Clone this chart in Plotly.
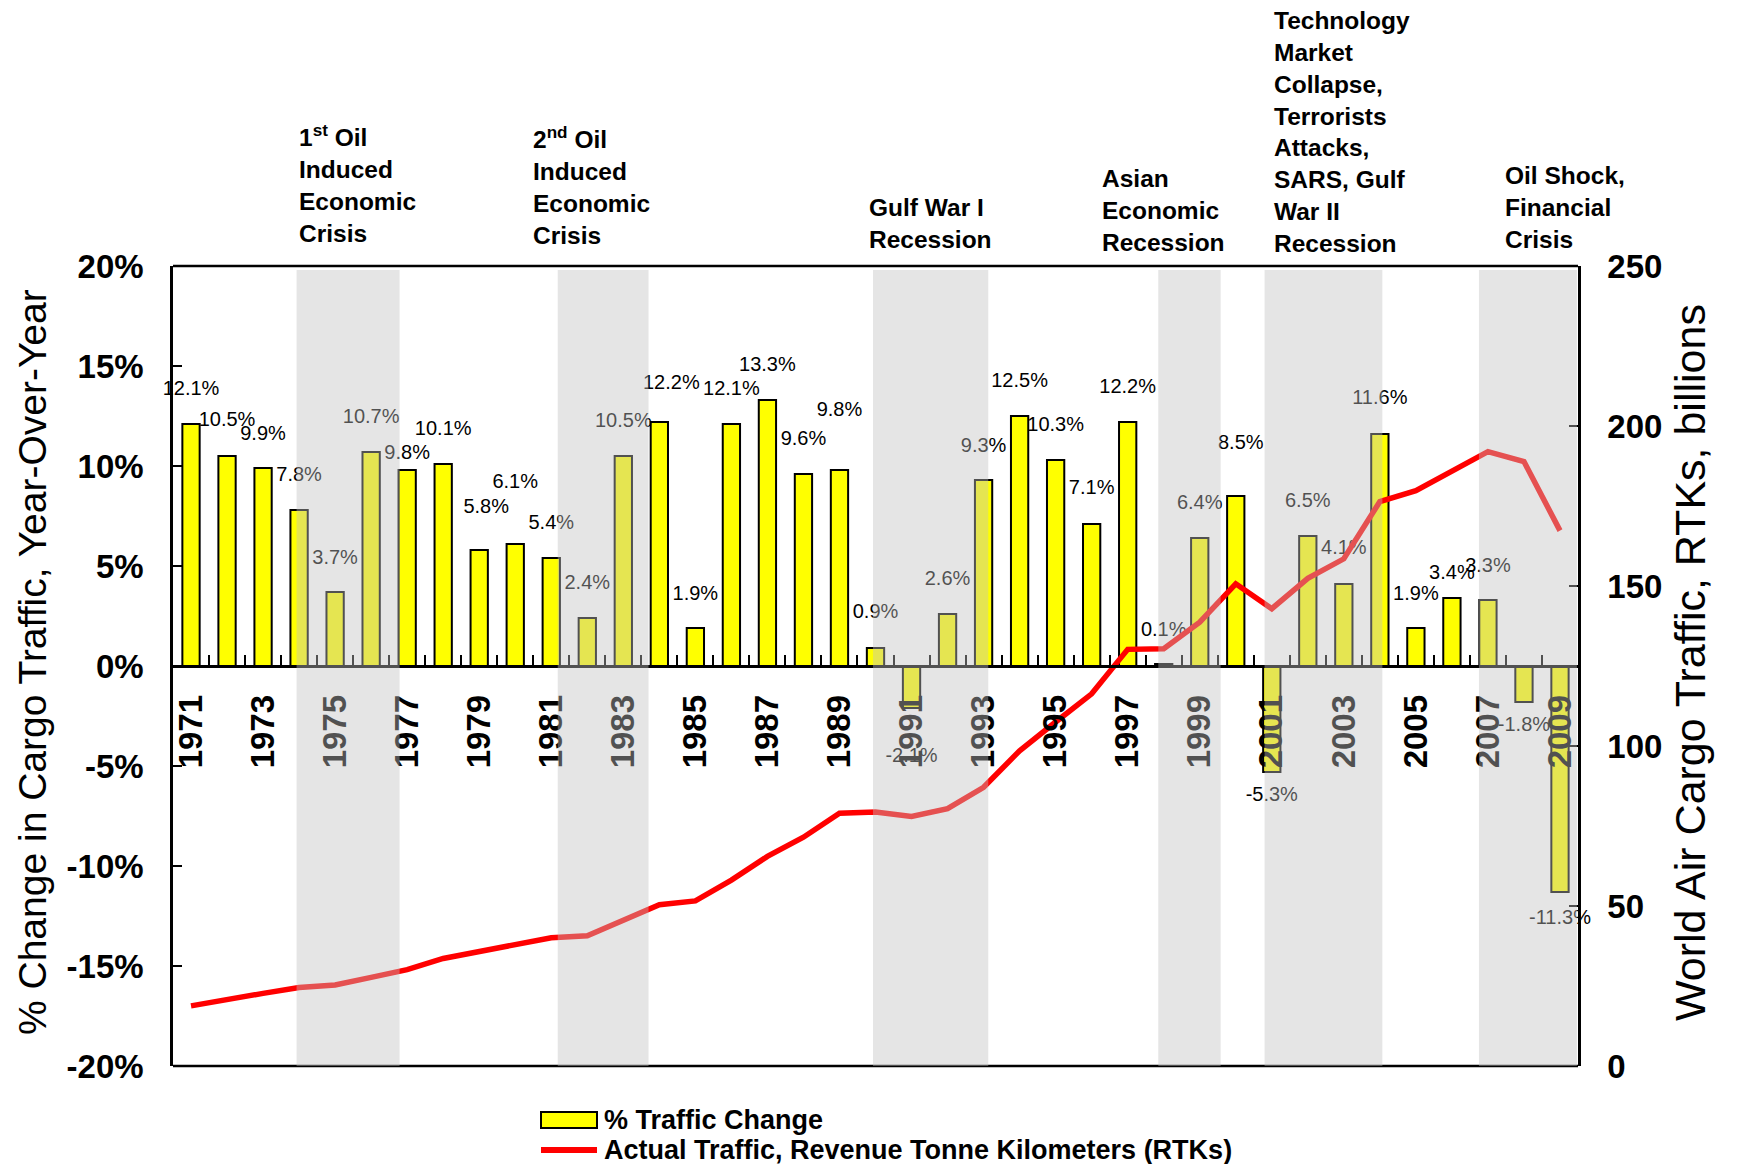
import plotly.graph_objects as go

# ---------------- data ----------------
years = list(range(1971, 2010))
pct_change = [12.1, 10.5, 9.9, 7.8, 3.7, 10.7, 9.8, 10.1, 5.8, 6.1,
              5.4, 2.4, 10.5, 12.2, 1.9, 12.1, 13.3, 9.6, 9.8, 0.9,
              -2.1, 2.6, 9.3, 12.5, 10.3, 7.1, 12.2, 0.1, 6.4, 8.5,
              -5.3, 6.5, 4.1, 11.6, 1.9, 3.4, 3.3, -1.8, -11.3]
rtk_billions = [18.8, 20.9, 22.7, 24.5, 25.3, 27.7, 30.1, 33.6, 35.7, 38.1,
                40.1, 40.7, 45.4, 50.4, 51.6, 58.1, 65.5, 71.5, 79.0, 79.4,
                78.0, 80.4, 87.1, 98.5, 107.5, 116.3, 130.2, 130.4, 138.7, 150.7,
                142.9, 152.4, 158.5, 176.4, 179.8, 186.1, 192.0, 188.9, 167.3]
year_tick_labels = [str(y) for y in range(1971, 2010, 2)]
pct_tick_values = [-20, -15, -10, -5, 0, 5, 10, 15, 20]
pct_tick_labels = ["-20%", "-15%", "-10%", "-5%", "0%", "5%", "10%", "15%", "20%"]
crisis_periods = [(1973.93, 1976.79), (1981.18, 1983.70), (1989.93, 1993.13),
                  (1997.85, 1999.58), (2000.80, 2004.07), (2006.75, 2009.47)]
crisis_labels = ["1<sup>st</sup> Oil<br>Induced<br>Economic<br>Crisis",
                 "2<sup>nd</sup> Oil<br>Induced<br>Economic<br>Crisis",
                 "Gulf War I<br>Recession",
                 "Asian<br>Economic<br>Recession",
                 "Technology<br>Market<br>Collapse,<br>Terrorists<br>Attacks,<br>SARS, Gulf<br>War II<br>Recession",
                 "Oil Shock,<br>Financial<br>Crisis"]
series_names = ["% Traffic Change", "Actual Traffic, Revenue Tonne Kilometers (RTKs)"]

# label nudges (pixels): vertical lift from bar end, horizontal shift
label_lift = [34, 35, 33, 34, 33, 34, 16, 34, 42, 61,
              34, 34, 34, 38, 33, 34, 34, 34, 59, 35,
              -49, 34, 33, 34, 34, 35, 34, 33, 34, 52,
              -24, 34, 35, 35, 33, 24, 33, -24, -27]
label_dx = [0] * 39
label_dx[8] = 7
label_dx[13] = 12
label_dx[29] = 5

# ---------------- layout geometry ----------------
W, H = 1739, 1164
ML, MR, MT, MB = 173, 161, 266, 98
PW = W - ML - MR
PH = H - MT - MB
X0, X1 = 1970.5, 2009.5
px_per_year = PW / (X1 - X0)
px_per_pct = PH / 40.0


def px_x(px):
    return (px - ML) / PW


def px_y(py):
    return (H - MB - py) / PH


BASE = "Liberation Sans, Arial, sans-serif"
YELLOW = "#FFFF00"
RED = "#FF0000"

fig = go.Figure()

fig.add_trace(go.Bar(
    x=years, y=pct_change, width=0.48,
    marker=dict(color=YELLOW, line=dict(color="black", width=2)),
    name=series_names[0], yaxis="y", showlegend=False,
))

label_text = [f"{v:.1f}%" for v in pct_change]
label_x = [y + dx / px_per_year for y, dx in zip(years, label_dx)]
label_y = [v + lf / px_per_pct for v, lf in zip(pct_change, label_lift)]
fig.add_trace(go.Scatter(
    x=label_x, y=label_y, text=label_text, mode="text",
    textposition="middle center", cliponaxis=False,
    textfont=dict(family=BASE, size=20, color="black"),
    showlegend=False, hoverinfo="skip", yaxis="y",
))

fig.add_trace(go.Scatter(
    x=years, y=rtk_billions, mode="lines",
    line=dict(color=RED, width=5.5),
    name=series_names[1], yaxis="y2", showlegend=False,
))

shapes = []
# bottom frame line (drawn before bands so bands tint it)
shapes.append(dict(type="line", xref="paper", yref="paper", x0=0, x1=1, y0=0, y1=0,
                   line=dict(color="black", width=2.5), layer="above"))
shapes.append(dict(type="line", xref="paper", yref="paper", x0=0, x1=1, y0=1, y1=1,
                   line=dict(color="black", width=2.5), layer="above"))
for a, b in crisis_periods:
    shapes.append(dict(type="rect", xref="x", yref="y", x0=a, x1=b, y0=-20.2, y1=19.8,
                       fillcolor="rgba(192,192,192,0.42)", line=dict(width=0),
                       layer="above"))

# manual legend (wide swatch like the original)
shapes.append(dict(type="rect", xref="paper", yref="paper",
                   x0=px_x(541), x1=px_x(597), y0=px_y(1128), y1=px_y(1112),
                   fillcolor=YELLOW, line=dict(color="black", width=2), layer="above"))
shapes.append(dict(type="line", xref="paper", yref="paper",
                   x0=px_x(541), x1=px_x(597), y0=px_y(1150), y1=px_y(1150),
                   line=dict(color=RED, width=6), layer="above"))

annotations = []
annotations.append(dict(text=series_names[0], xref="paper", yref="paper",
                        x=px_x(602), y=px_y(1120), xanchor="left", yanchor="middle",
                        showarrow=False,
                        font=dict(family=BASE, size=27, color="black", weight="bold")))
annotations.append(dict(text=series_names[1], xref="paper", yref="paper",
                        x=px_x(602), y=px_y(1150), xanchor="left", yanchor="middle",
                        showarrow=False,
                        font=dict(family=BASE, size=27, color="black", weight="bold")))

ann_left_px = [297, 531, 867, 1100, 1272, 1503]
ann_bottom_px = [249, 251, 255, 258, 259, 255]
for txt, lx, by in zip(crisis_labels, ann_left_px, ann_bottom_px):
    annotations.append(dict(
        text=txt, xref="paper", yref="paper",
        x=px_x(lx), y=px_y(by),
        xanchor="left", yanchor="bottom", align="left", showarrow=False,
        font=dict(family=BASE, size=24.5, color="black", weight="bold"),
    ))
annotations.append(dict(
    text="% Change in Cargo Traffic, Year-Over-Year", textangle=-90,
    xref="paper", yref="paper", x=px_x(32), y=px_y(662),
    xanchor="center", yanchor="middle", showarrow=False,
    font=dict(family=BASE, size=39, color="black"),
))
annotations.append(dict(
    text="World Air Cargo Traffic, RTKs, billions", textangle=-90,
    xref="paper", yref="paper", x=px_x(1690), y=px_y(663),
    xanchor="center", yanchor="middle", showarrow=False,
    font=dict(family=BASE, size=43, color="black"),
))

fig.update_layout(
    width=W, height=H,
    margin=dict(l=ML, r=MR, t=MT, b=MB, pad=0, autoexpand=False),
    paper_bgcolor="white", plot_bgcolor="white",
    font=dict(family=BASE, color="black"),
    showlegend=False,
    bargap=0.5,
    xaxis=dict(
        range=[X0, X1], anchor="free", position=0.5,
        tickmode="array", tickvals=list(range(1971, 2010, 2)), ticktext=year_tick_labels,
        tickangle=-90, ticks="", ticklabelstandoff=14,
        tickfont=dict(family=BASE, size=33, color="black", weight="bold"),
        showline=True, linecolor="black", linewidth=2.5,
        showgrid=False, zeroline=False,
        minor=dict(tickmode="array", tickvals=[y + 0.5 for y in years[:-1]],
                   ticks="inside", ticklen=10, tickwidth=1.5, tickcolor="black"),
    ),
    yaxis=dict(
        range=[-20, 20], tickmode="array", tickvals=pct_tick_values, ticktext=pct_tick_labels,
        ticks="inside", ticklen=9, tickwidth=1.5, tickcolor="black",
        ticklabelstandoff=20,
        tickfont=dict(family=BASE, size=33, color="black", weight="bold"),
        showline=True, linecolor="black", linewidth=2.5,
        showgrid=False, zeroline=False,
    ),
    yaxis2=dict(
        range=[0, 250], overlaying="y", side="right", anchor="x",
        tickmode="linear", tick0=0, dtick=50,
        ticks="inside", ticklen=9, tickwidth=1.5, tickcolor="black",
        ticklabelstandoff=20,
        tickfont=dict(family=BASE, size=33, color="black", weight="bold"),
        showline=True, linecolor="black", linewidth=2.5,
        showgrid=False, zeroline=False,
    ),
    shapes=shapes,
    annotations=annotations,
)

fig.write_html("out.html", config={"displayModeBar": False},
               post_script="document.body.style.margin='0px';document.body.style.overflow='hidden';")
